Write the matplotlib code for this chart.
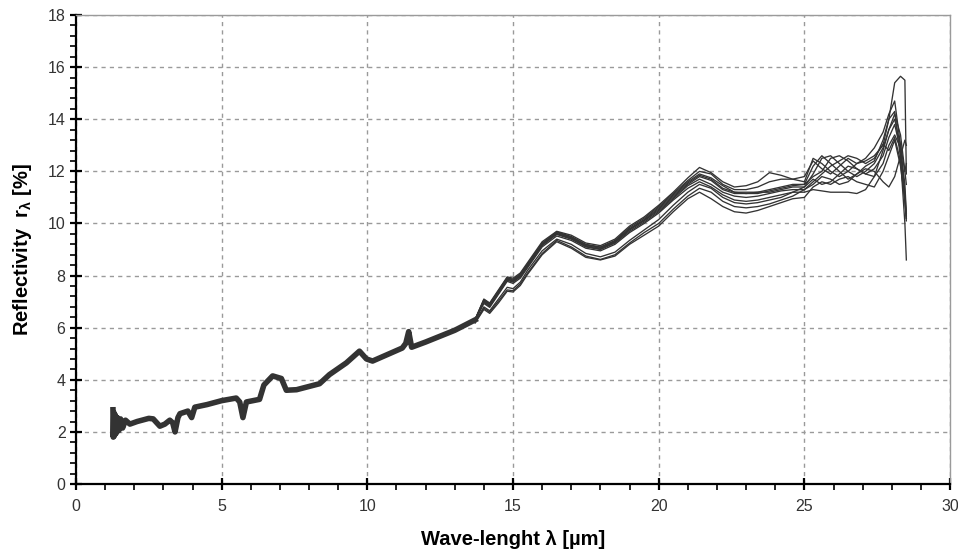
import matplotlib
matplotlib.use("Agg")
from matplotlib import pyplot as plt
from matplotlib.ticker import MultipleLocator

plt.rcParams["font.family"] = ["Liberation Sans", "DejaVu Sans"]
plt.rcParams["mathtext.fontset"] = "custom"
plt.rcParams["mathtext.rm"] = "Liberation Sans"
plt.rcParams["mathtext.bf"] = "Liberation Sans:bold"

# shared part of the spectra (all samples overlap here)
wl_common = [1.27, 1.28, 1.30, 1.32, 1.35, 1.38, 1.42, 1.47, 1.53, 1.60, 1.70, 1.85,
             2.10, 2.50, 2.65, 2.88, 3.05, 3.22, 3.32, 3.40, 3.50, 3.57, 3.84, 3.97,
             4.08, 4.50, 5.00, 5.50, 5.62, 5.73, 5.85, 6.30, 6.45, 6.75, 7.05, 7.22,
             7.57, 8.36, 8.70, 9.28, 9.73, 9.97, 10.18, 11.20, 11.32, 11.42, 11.52,
             12.0, 13.0, 13.70]
r_common = [2.85, 1.80, 2.75, 1.85, 2.65, 1.95, 2.55, 2.05, 2.50, 2.15, 2.45, 2.30,
            2.40, 2.52, 2.50, 2.22, 2.30, 2.45, 2.35, 2.00, 2.55, 2.70, 2.80, 2.55,
            2.95, 3.05, 3.20, 3.30, 3.15, 2.55, 3.15, 3.25, 3.80, 4.15, 4.05, 3.60,
            3.62, 3.85, 4.20, 4.65, 5.10, 4.80, 4.72, 5.22, 5.40, 5.85, 5.25,
            5.45, 5.90, 6.30]

# individual samples where they spread apart
wl_tail = [13.7, 14.0, 14.2, 14.5, 14.8, 15.0, 15.25,
           15.5, 16.0, 16.5, 17.0, 17.5, 18.0, 18.5, 19.0, 19.5, 20.0, 20.5, 21.0,
           21.4, 21.8, 22.2, 22.6, 23.0, 23.4, 23.8, 24.2, 24.6,
           25.0, 25.3, 25.6, 25.9, 26.2, 26.5, 26.8, 27.1, 27.4, 27.7, 27.9, 28.1,
           28.3, 28.45, 28.5]

sample_0 = [6.32, 7.10, 6.95, 7.45, 7.95, 7.90, 8.10,
            8.50, 9.30, 9.70, 9.55, 9.25, 9.15, 9.40, 9.90, 10.25, 10.70, 11.20, 11.75,
            12.15, 11.95, 11.60, 11.40, 11.45, 11.60, 11.95, 11.85, 11.70,
            11.80, 12.40, 12.10, 11.90, 12.20, 12.50, 12.30, 12.40, 12.60, 13.00, 14.00, 15.40,
            15.65, 15.50, 11.90]
sample_1 = [6.32, 7.08, 6.92, 7.42, 7.92, 7.86, 8.06,
            8.45, 9.25, 9.68, 9.50, 9.20, 9.10, 9.35, 9.85, 10.20, 10.65, 11.15, 11.65,
            12.00, 11.90, 11.50, 11.30, 11.30, 11.40, 11.60, 11.70, 11.70,
            11.60, 12.50, 12.30, 12.00, 11.80, 12.00, 12.30, 12.50, 12.90, 13.50, 14.20, 14.70,
            13.00, 11.00, 10.10]
sample_2 = [6.31, 7.05, 6.90, 7.40, 7.90, 7.83, 8.03,
            8.40, 9.22, 9.65, 9.48, 9.18, 9.08, 9.32, 9.80, 10.15, 10.60, 11.10, 11.60,
            11.90, 11.75, 11.45, 11.20, 11.20, 11.20, 11.30, 11.40, 11.50,
            11.50, 12.20, 12.60, 12.30, 12.00, 11.70, 11.90, 12.20, 12.40, 13.20, 14.00, 14.30,
            12.50, 10.00, 8.60]
sample_3 = [6.30, 7.03, 6.88, 7.37, 7.87, 7.80, 8.00,
            8.40, 9.20, 9.62, 9.45, 9.15, 9.05, 9.30, 9.78, 10.12, 10.55, 11.05, 11.55,
            11.85, 11.70, 11.35, 11.20, 11.15, 11.20, 11.20, 11.30, 11.40,
            11.40, 11.90, 12.50, 12.60, 12.30, 12.00, 11.80, 12.00, 12.30, 12.90, 13.60, 14.20,
            13.40, 12.00, 11.50]
sample_4 = [6.30, 7.00, 6.85, 7.35, 7.85, 7.78, 7.98,
            8.38, 9.18, 9.60, 9.42, 9.12, 9.02, 9.28, 9.75, 10.10, 10.50, 11.00, 11.50,
            11.80, 11.65, 11.30, 11.15, 11.15, 11.15, 11.25, 11.35, 11.45,
            11.50, 11.80, 12.00, 12.50, 12.60, 12.40, 12.10, 11.90, 12.10, 12.60, 13.30, 13.80,
            12.80, 11.20, 10.30]
sample_5 = [6.29, 6.97, 6.82, 7.32, 7.82, 7.75, 7.95,
            8.35, 9.15, 9.58, 9.40, 9.10, 9.00, 9.25, 9.70, 10.05, 10.45, 10.95, 11.45,
            11.70, 11.50, 11.20, 11.05, 11.00, 11.05, 11.15, 11.25, 11.30,
            11.30, 11.60, 11.90, 12.20, 12.40, 12.60, 12.50, 12.30, 12.50, 13.05, 12.80, 13.30,
            12.40, 10.80, 10.20]
sample_6 = [6.28, 6.93, 6.78, 7.28, 7.78, 7.70, 7.90,
            8.30, 9.10, 9.52, 9.35, 9.05, 8.95, 9.20, 9.65, 10.00, 10.40, 10.90, 11.35,
            11.60, 11.40, 11.10, 10.90, 10.85, 10.90, 11.00, 11.10, 11.20,
            11.20, 11.30, 11.25, 11.20, 11.20, 11.20, 11.15, 11.30, 11.80, 12.80, 13.60, 14.00,
            13.00, 12.00, 12.30]
sample_7 = [6.22, 6.80, 6.65, 7.10, 7.55, 7.50, 7.75,
            8.20, 8.95, 9.40, 9.20, 8.85, 8.72, 8.90, 9.35, 9.75, 10.15, 10.70, 11.20,
            11.50, 11.35, 11.00, 10.80, 10.75, 10.80, 10.90, 11.00, 11.20,
            11.40, 11.70, 11.50, 11.60, 11.90, 12.20, 12.10, 11.90, 11.80, 12.30, 13.00, 13.40,
            12.90, 11.50, 10.40]
sample_8 = [6.20, 6.75, 6.60, 7.02, 7.45, 7.42, 7.68,
            8.10, 8.85, 9.35, 9.10, 8.75, 8.62, 8.80, 9.25, 9.65, 10.00, 10.55, 11.05,
            11.35, 11.20, 10.85, 10.65, 10.60, 10.65, 10.75, 10.90, 11.05,
            11.30, 11.50, 11.80, 11.70, 11.50, 11.60, 11.90, 12.10, 12.00, 11.60, 11.40, 11.80,
            12.60, 13.20, 13.00]
sample_9 = [6.18, 6.70, 6.55, 6.95, 7.40, 7.37, 7.62,
            8.05, 8.80, 9.30, 9.05, 8.70, 8.60, 8.75, 9.20, 9.55, 9.90, 10.45, 10.95,
            11.20, 10.95, 10.65, 10.45, 10.40, 10.50, 10.65, 10.80, 10.95,
            11.00, 11.40, 11.60, 11.50, 11.70, 11.80, 11.60, 11.50, 11.40, 12.00, 12.60, 13.20,
            12.20, 10.90, 10.20]

samples = [sample_0, sample_1, sample_2, sample_3, sample_4,
           sample_5, sample_6, sample_7, sample_8, sample_9]

line_color = "#333333"

fig = plt.figure(figsize=(9.58, 5.57), dpi=100)
ax = fig.add_axes([0.0793, 0.131, 0.9124, 0.842])

ax.plot(wl_common, r_common, color=line_color, lw=4.0, solid_joinstyle="round")
for s in samples:
    ax.plot(wl_tail, s, color=line_color, lw=0.95)

ax.set_xlim(0, 30)
ax.set_ylim(0, 18)
ax.xaxis.set_major_locator(MultipleLocator(5))
ax.xaxis.set_minor_locator(MultipleLocator(1))
ax.yaxis.set_major_locator(MultipleLocator(2))
ax.yaxis.set_minor_locator(MultipleLocator(0.4))

ax.grid(True, which="major", color="#9a9a9a", linestyle=(0, (3, 3)), lw=1)
ax.set_axisbelow(True)

for side in ["left", "bottom"]:
    ax.spines[side].set_linewidth(1.6)
    ax.spines[side].set_color("black")
for side in ["top", "right"]:
    ax.spines[side].set_linewidth(1.0)
    ax.spines[side].set_color("#9a9a9a")

ax.tick_params(which="major", direction="inout", length=8, width=1.6,
               labelsize=11.5, colors="black")
ax.tick_params(axis="x", which="major", pad=7)
ax.tick_params(which="minor", direction="out", length=4, width=1.2, colors="black")
for lbl in ax.get_xticklabels() + ax.get_yticklabels():
    lbl.set_color("#333333")

ax.set_xlabel("Wave-lenght λ [µm]", fontsize=14.5, fontweight="bold", labelpad=11)
ax.set_ylabel(r"Reflectivity  r$_{\mathbf{λ}}$ [%]", fontsize=14.5,
              fontweight="bold", labelpad=10)

plt.savefig("out.png", dpi=100)
